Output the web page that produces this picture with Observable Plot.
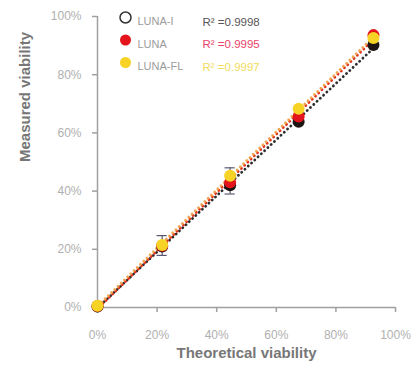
<!DOCTYPE html>
<html><head><meta charset="utf-8">
<script src="https://cdn.jsdelivr.net/npm/d3@7"></script>
<script src="https://cdn.jsdelivr.net/npm/@observablehq/plot@0.6"></script>
<style>
body{margin:0;background:#fff}
#chart svg{font-family:"Liberation Sans",Arial,sans-serif;overflow:visible}
</style>
</head><body><div id="chart"></div>
<script>
// Data
const theoretical = [0, 21.7, 44.5, 67.5, 92.6];
const lunaI  = [0.3, 21.0, 42.0, 63.8, 90.2];
const luna   = [0.5, 21.2, 43.0, 65.6, 93.6];
const lunaFL = [0.6, 21.5, 45.3, 68.3, 92.6];
const series = ["LUNA-I", "LUNA", "LUNA-FL"];
const r2 = ["0.9998", "0.9995", "0.9997"];
const errLow  = [null, 17.9, 39.0, null, null];
const errHigh = [null, 24.7, 48.0, null, null];
const ticks = [0, 20, 40, 60, 80, 100];

const values = [lunaI, luna, lunaFL];
const pointColors = ["#1e1512", "#e3141b", "#f6d325"];
const lineColors = ["#2e2e2e", "#e0301e", "#f2a550"];
const r2Colors = ["#555555", "#e8436a", "#f1dc5c"];

const rows = [];
series.forEach((s, i) => theoretical.forEach((t, j) => rows.push({series: s, i, x: t, y: values[i][j]})));
const errRows = theoretical.map((t, j) => ({x: t, lo: errLow[j], hi: errHigh[j]})).filter(d => d.lo != null);

const marks = [
  Plot.ruleX([0], {stroke: "#a0a0a0", strokeWidth: 1.5}),
  Plot.ruleY([0], {stroke: "#a0a0a0", strokeWidth: 1.5}),
  Plot.axisX({ticks, tickFormat: d => d + "%", tickSize: 5, tickPadding: 18, stroke: "#a0a0a0", strokeWidth: 1.5, fill: "#b0b0b0", fontSize: 12, label: null, style: {letterSpacing: "0.8px"}}),
  Plot.axisY({ticks, tickFormat: d => d + "%", tickSize: 5, tickPadding: 11, stroke: "#a0a0a0", strokeWidth: 1.5, fill: "#b0b0b0", fontSize: 12, label: null, style: {letterSpacing: "0.8px"}}),
];

series.forEach((s, i) => {
  marks.push(Plot.linearRegressionY(rows.filter(d => d.series === s), {
    x: "x", y: "y", ci: 0, stroke: lineColors[i], strokeWidth: 2.8,
    strokeDasharray: "0.1,4.4", strokeLinecap: "round", strokeDashoffset: i * 1.5
  }));
});

marks.push(
  Plot.ruleX(errRows, {x: "x", y1: "lo", y2: "hi", stroke: "#5a5870", strokeWidth: 1.2}),
  Plot.ruleY(errRows, {y: "lo", x1: d => d.x - 1.7, x2: d => d.x + 1.7, stroke: "#5a5870", strokeWidth: 1.2}),
  Plot.ruleY(errRows, {y: "hi", x1: d => d.x - 1.7, x2: d => d.x + 1.7, stroke: "#5a5870", strokeWidth: 1.2})
);

series.forEach((s, i) => {
  marks.push(Plot.dot(rows.filter(d => d.series === s), {x: "x", y: "y", r: 6, fill: pointColors[i]}));
});

// Legend
series.forEach((s, i) => {
  const dy = 1 + i * 22.5;
  marks.push(
    Plot.dot([s], {frameAnchor: "top-left", dx: 28, dy, r: 5.5,
      fill: i === 0 ? "white" : pointColors[i], stroke: i === 0 ? "#333" : "none", strokeWidth: 1.5}),
    Plot.text([s], {text: d => d, frameAnchor: "top-left", dx: 40, dy, textAnchor: "start",
      fill: "#9c9c9c", fontSize: 11, style: {letterSpacing: "0.6px"}}),
    Plot.text([r2[i]], {text: d => "R\u00b2 =" + d, frameAnchor: "top-left", dx: 105, dy, textAnchor: "start",
      fill: r2Colors[i], fontSize: 11.5})
  );
});

marks.push(
  Plot.text(["Measured viability"], {frameAnchor: "left", rotate: -90, dx: -72, fontSize: 15, fontWeight: "bold", fill: "#777777"}),
  Plot.text(["Theoretical viability"], {frameAnchor: "bottom", dy: 50, fontSize: 15, fontWeight: "bold", fill: "#777777"})
);

const chart = Plot.plot({
  width: 419, height: 373,
  marginLeft: 97, marginRight: 24, marginTop: 16, marginBottom: 66,
  x: {domain: [0, 100]},
  y: {domain: [0, 100]},
  marks
});
document.getElementById("chart").appendChild(chart);
</script>
</body></html>
